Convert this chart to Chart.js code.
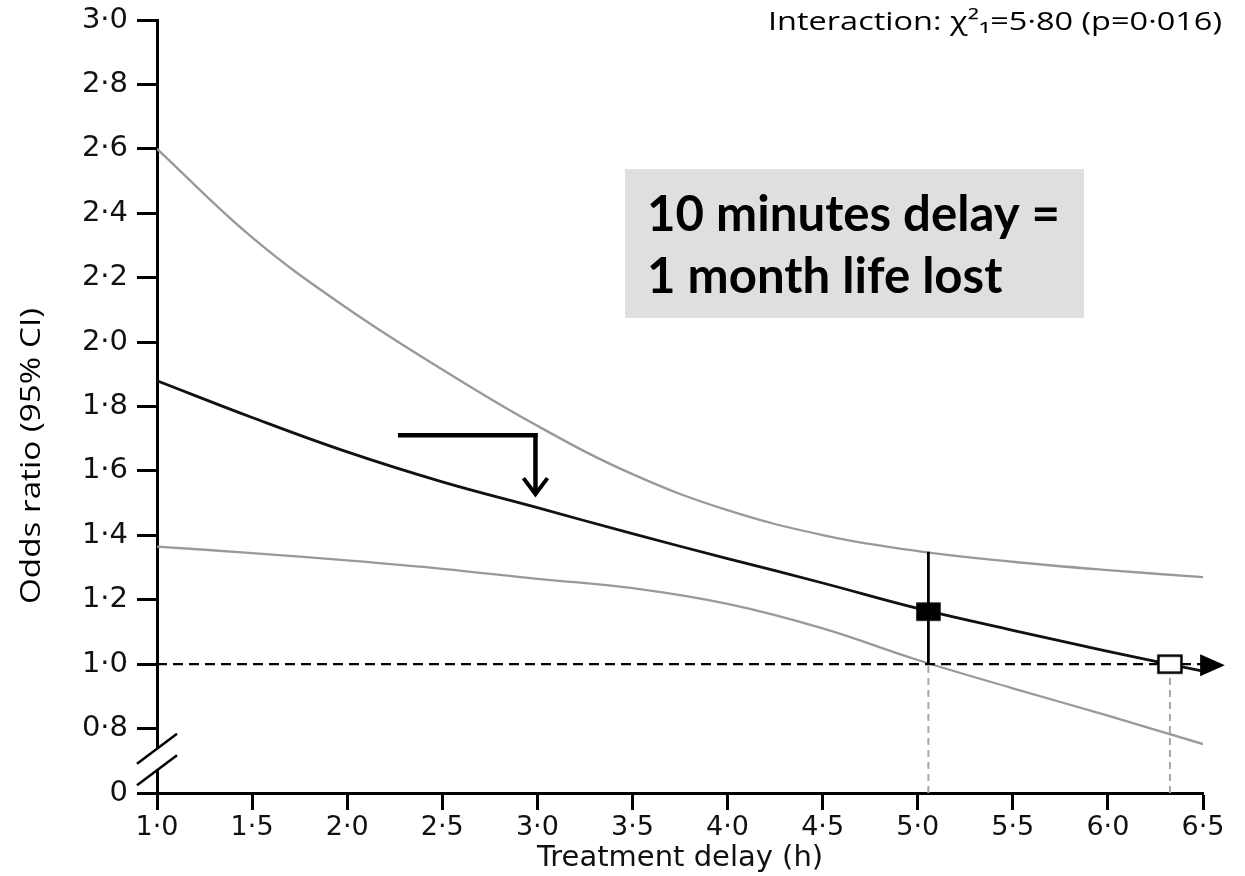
<!DOCTYPE html>
<html><head><meta charset="utf-8">
<script src="https://cdn.jsdelivr.net/npm/chart.js@4.4.1/dist/chart.umd.min.js"></script>
<style>html,body{margin:0;padding:0;background:#fff}canvas{display:block}</style>
</head><body>
<canvas id="c" width="1245" height="876"></canvas>
<script>
// ---- data ----
const delayHours = [1.0, 1.5, 2.0, 2.5, 3.0, 3.5, 4.0, 4.5, 5.0, 5.5, 6.0, 6.5];
const oddsRatio  = [1.880, 1.766, 1.659, 1.566, 1.486, 1.405, 1.328, 1.252, 1.173, 1.105, 1.040, 0.978];
const upperCI    = [2.600, 2.325, 2.105, 1.915, 1.740, 1.590, 1.478, 1.401, 1.351, 1.318, 1.292, 1.270];
const lowerCI    = [1.365, 1.345, 1.322, 1.296, 1.265, 1.236, 1.187, 1.111, 1.013, 0.925, 0.840, 0.752];
const markDelay  = [5.056, 6.326];
const markOR     = [1.163, 1.0];
const markUpper  = 1.349;
const nullOR     = 1.0;
const xTickValues = [1.0, 1.5, 2.0, 2.5, 3.0, 3.5, 4.0, 4.5, 5.0, 5.5, 6.0, 6.5];
const xTickLabels = ['1·0','1·5','2·0','2·5','3·0','3·5','4·0','4·5','5·0','5·5','6·0','6·5'];
const yTickValues = [0.6, 0.8, 1.0, 1.2, 1.4, 1.6, 1.8, 2.0, 2.2, 2.4, 2.6, 2.8, 3.0];
const yTickLabels = ['0','0·8','1·0','1·2','1·4','1·6','1·8','2·0','2·2','2·4','2·6','2·8','3·0'];
const xTitle = 'Treatment delay (h)';
const yTitle = 'Odds ratio (95% CI)';
const noteText = 'Interaction: χ²₁=5·80 (p=0·016)';
const boxLines = ['10 minutes delay =', '1 month life lost'];

const pts = (xs, ys) => xs.map((x, i) => ({x, y: ys[i]}));

function rectImg(w, h, fill) {
  const c = document.createElement('canvas');
  c.width = w + 4; c.height = h + 4;
  const g = c.getContext('2d');
  g.fillStyle = fill; g.fillRect(2, 2, w, h);
  g.lineWidth = 2.5; g.strokeStyle = '#000'; g.strokeRect(2.5, 2.5, w - 1, h - 1);
  return c;
}
const filledSq = rectImg(23, 17, '#000');
const openSq = rectImg(24, 18, '#fff');

const lineBase = {showLine: true, pointRadius: 0, fill: false, tension: 0.4};
const TICK_FONT = '"DejaVu Sans", sans-serif';

const annot = {
  id: 'annot',
  afterDatasetsDraw(chart) {
    const {ctx, scales: {x, y}} = chart;
    ctx.save();
    // axis break
    const ax = x.getPixelForValue(1.0);
    const b1 = y.getPixelForValue(0.737), b2 = y.getPixelForValue(0.671);
    ctx.fillStyle = '#fff';
    ctx.fillRect(ax - 3, b1, 6, b2 - b1);
    ctx.strokeStyle = '#000'; ctx.lineWidth = 2.5;
    [b1, b2].forEach(b => {
      ctx.beginPath(); ctx.moveTo(ax - 20, b + 15); ctx.lineTo(ax + 20, b - 15); ctx.stroke();
    });
    // L-shaped pointer
    const lx0 = x.getPixelForValue(2.267), lx1 = x.getPixelForValue(2.99);
    const ly0 = y.getPixelForValue(1.711), ly1 = y.getPixelForValue(1.528);
    ctx.lineWidth = 4.5; ctx.lineCap = 'butt';
    ctx.beginPath(); ctx.moveTo(lx0, ly0); ctx.lineTo(lx1 + 2, ly0); ctx.stroke();
    ctx.beginPath(); ctx.moveTo(lx1, ly0 - 2); ctx.lineTo(lx1, ly1 - 2); ctx.stroke();
    ctx.lineWidth = 4;
    ctx.beginPath(); ctx.moveTo(lx1 - 12, ly1 - 16); ctx.lineTo(lx1, ly1); ctx.lineTo(lx1 + 12, ly1 - 16); ctx.stroke();
    // arrowhead at the end of the curve
    const tx = x.getPixelForValue(6.615), bx = x.getPixelForValue(6.485), ty = y.getPixelForValue(nullOR) + 1;
    ctx.fillStyle = '#000';
    ctx.beginPath(); ctx.moveTo(bx, ty - 11); ctx.lineTo(tx, ty); ctx.lineTo(bx, ty + 11); ctx.closePath(); ctx.fill();
    // grey box
    const gx0 = x.getPixelForValue(3.461), gx1 = x.getPixelForValue(5.874);
    const gy0 = y.getPixelForValue(2.537), gy1 = y.getPixelForValue(2.075);
    ctx.fillStyle = '#dfdfdf';
    ctx.fillRect(gx0, gy0, gx1 - gx0, gy1 - gy0);
    ctx.fillStyle = '#000';
    ctx.font = 'bold 49px Lato, "Open Sans", sans-serif';
    ctx.textBaseline = 'alphabetic'; ctx.textAlign = 'left';
    const w0 = ctx.measureText(boxLines[0]).width;
    const sc = 413 / w0;
    [62, 124].forEach((dy, i) => {
      ctx.save(); ctx.translate(gx0 + 22, gy0 + dy); ctx.scale(sc, 1); ctx.fillText(boxLines[i], 0, 0); ctx.restore();
    });
    // interaction note
    ctx.font = '25px "Open Sans", sans-serif';
    const wn = ctx.measureText(noteText).width;
    ctx.save(); ctx.translate(1222, 30); ctx.scale(454 / wn, 1); ctx.textAlign = 'right'; ctx.fillText(noteText, 0, 0); ctx.restore();
    // y title
    ctx.font = '27px "Open Sans", sans-serif';
    const wy = ctx.measureText(yTitle).width;
    ctx.save(); ctx.translate(32, 456); ctx.rotate(-Math.PI / 2); ctx.scale(296 / wy, 1);
    ctx.textAlign = 'center'; ctx.textBaseline = 'middle'; ctx.fillText(yTitle, 0, 0); ctx.restore();
    ctx.restore();
  }
};

new Chart(document.getElementById('c'), {
  type: 'scatter',
  data: {
    datasets: [
      {...lineBase, data: pts(delayHours, upperCI), borderColor: '#999', borderWidth: 2.3, order: 5},
      {...lineBase, data: pts(delayHours, lowerCI), borderColor: '#999', borderWidth: 2.3, order: 5},
      {...lineBase, tension: 0, data: [{x: 1.0, y: nullOR}, {x: 6.5, y: nullOR}], borderColor: '#000', borderWidth: 2.2, borderDash: [10, 6], order: 4},
      {...lineBase, tension: 0, data: [{x: markDelay[0], y: 0.6}, {x: markDelay[0], y: nullOR}], borderColor: '#a8a8a8', borderWidth: 2, borderDash: [7, 5], order: 4},
      {...lineBase, tension: 0, data: [{x: markDelay[1], y: 0.6}, {x: markDelay[1], y: nullOR}], borderColor: '#a8a8a8', borderWidth: 2, borderDash: [7, 5], order: 4},
      {...lineBase, data: pts(delayHours, oddsRatio), borderColor: '#111', borderWidth: 2.8, order: 2},
      {...lineBase, tension: 0, data: [{x: markDelay[0], y: nullOR}, {x: markDelay[0], y: markUpper}], borderColor: '#000', borderWidth: 2.8, order: 2},
      {data: [{x: markDelay[0], y: markOR[0]}], pointStyle: filledSq, pointRadius: 12, order: 0},
      {data: [{x: markDelay[1], y: markOR[1]}], pointStyle: openSq, pointRadius: 12, order: 0}
    ]
  },
  options: {
    responsive: false, animation: false, devicePixelRatio: 1,
    layout: {padding: {top: 20, right: 42, left: 0, bottom: 0}},
    plugins: {legend: {display: false}, tooltip: {enabled: false}},
    scales: {
      x: {
        type: 'linear', min: 1.0, max: 6.5,
        afterFit: s => { s.height = 83; s.paddingLeft = 0; s.paddingRight = 0; },
        afterBuildTicks: s => { s.ticks = xTickValues.map(v => ({value: v})); },
        ticks: {color: '#111', font: {family: TICK_FONT, size: 27}, padding: 2,
                callback: (v) => xTickLabels[xTickValues.findIndex(t => Math.abs(t - v) < 1e-6)] ?? ''},
        grid: {drawOnChartArea: false, drawTicks: true, tickLength: 17, tickWidth: 3, tickColor: '#000'},
        border: {display: true, color: '#000', width: 3},
        title: {display: true, text: xTitle, color: '#111', font: {family: TICK_FONT, size: 29}, padding: {top: 0, bottom: 0}}
      },
      y: {
        type: 'linear', min: 0.6, max: 3.0,
        afterFit: s => { s.width = 157; s.paddingTop = 0; s.paddingBottom = 0; },
        afterBuildTicks: s => { s.ticks = yTickValues.map(v => ({value: v})); },
        ticks: {color: '#111', font: {family: TICK_FONT, size: 29}, padding: 9,
                callback: (v) => yTickLabels[yTickValues.findIndex(t => Math.abs(t - v) < 1e-6)] ?? ''},
        grid: {drawOnChartArea: false, drawTicks: true, tickLength: 20, tickWidth: 3, tickColor: '#000'},
        border: {display: true, color: '#000', width: 3}
      }
    }
  },
  plugins: [annot]
});
</script>
</body></html>
